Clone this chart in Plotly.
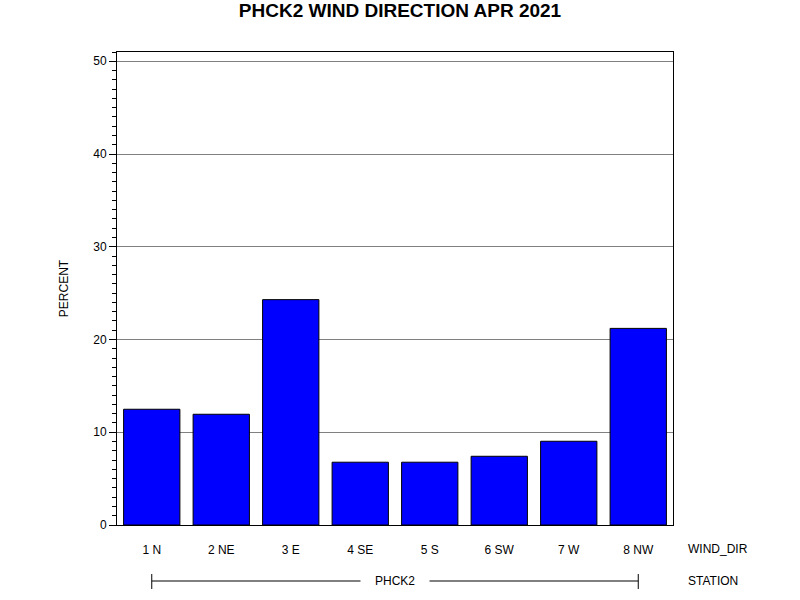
import plotly.graph_objects as go

# wind direction share, PHCK2, April 2021
wind_dirs = ["1 N", "2 NE", "3 E", "4 SE", "5 S", "6 SW", "7 W", "8 NW"]
percent = [12.48, 11.94, 24.3, 6.77, 6.77, 7.41, 9.03, 21.2]
station = "PHCK2"
y_ticks = [0, 10, 20, 30, 40, 50]

FONT = "Liberation Sans, Arial, sans-serif"

fig = go.Figure()
fig.add_trace(go.Bar(x=wind_dirs, y=percent,
                     marker=dict(color="#0000FF", line=dict(color="black", width=1)),
                     showlegend=False))

fig.update_layout(
    width=800, height=600,
    margin=dict(l=117, r=127, t=52, b=75),
    paper_bgcolor="white", plot_bgcolor="white",
    font=dict(family=FONT, size=12, color="black"),
    bargap=0.19,
    title=dict(text="<b>PHCK2 WIND DIRECTION APR 2021</b>", x=0.5, xanchor="center",
               y=0.982, yanchor="middle", font=dict(size=19, family=FONT)),
)

fig.update_xaxes(showline=True, linecolor="black", linewidth=1, mirror=True,
                 ticks="", ticklabelstandoff=14, showgrid=False,
                 tickfont=dict(size=12))
fig.update_yaxes(range=[0, 51], tickvals=y_ticks, showline=True, linecolor="black",
                 linewidth=1, mirror=True, ticks="outside", ticklen=7, tickcolor="black",
                 minor=dict(dtick=1, ticks="outside", ticklen=4, tickcolor="black", showgrid=False),
                 showgrid=True, gridcolor="#808080", gridwidth=1, zeroline=False,
                 title=dict(text="PERCENT", standoff=22, font=dict(size=12)),
                 tickfont=dict(size=12))

# station bracket under the category labels
fig.add_shape(type="line", xref="x", yref="paper", x0=wind_dirs[0], x1=wind_dirs[-1],
              y0=-0.1184, y1=-0.1184, line=dict(color="black", width=1))
for cat in (wind_dirs[0], wind_dirs[-1]):
    fig.add_shape(type="line", xref="x", yref="paper", x0=cat, x1=cat,
                  y0=-0.1036, y1=-0.1353, line=dict(color="black", width=1))
fig.add_annotation(text=station, xref="paper", yref="paper", x=0.5, y=-0.1184,
                   showarrow=False, bgcolor="white", borderpad=14,
                   xanchor="center", yanchor="middle",
                   font=dict(size=12))
fig.add_annotation(text="WIND_DIR", xref="paper", yref="paper", x=1.0234, y=-0.0507,
                   showarrow=False, xanchor="left", yanchor="middle")
fig.add_annotation(text="STATION", xref="paper", yref="paper", x=1.0234, y=-0.1184,
                   showarrow=False, xanchor="left", yanchor="middle")

# drop the default page margin so the figure sits at the window's corner
fig.write_html("out.html", config={"displayModeBar": False},
               post_script="document.body.style.margin='0';")
